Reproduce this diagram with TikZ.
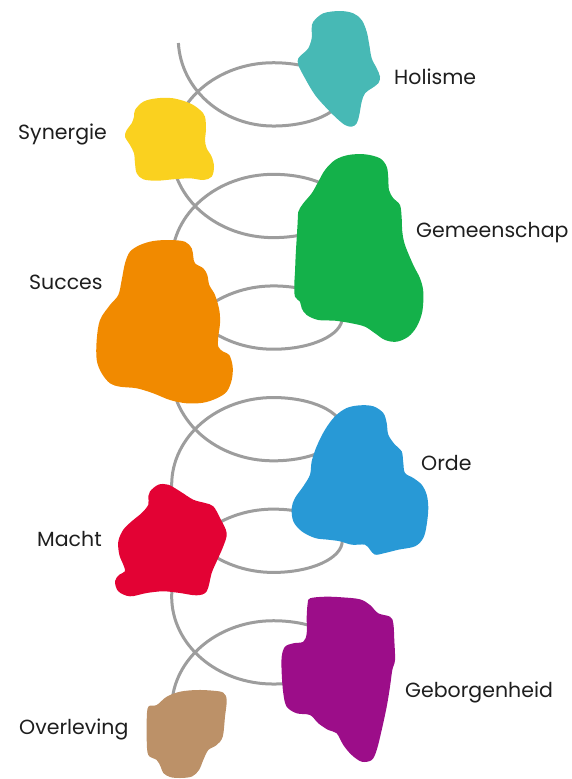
\documentclass[tikz,border=0pt]{standalone}
\usepackage{fontspec}
\setmainfont{Poppins}
\definecolor{coil}{HTML}{9D9D9D}
\definecolor{cTeal}{HTML}{47B9B5}
\definecolor{cYellow}{HTML}{FAD11F}
\definecolor{cGreen}{HTML}{14B14A}
\definecolor{cOrange}{HTML}{F18A00}
\definecolor{cBlue}{HTML}{2899D6}
\definecolor{cRed}{HTML}{E30234}
\definecolor{cPurple}{HTML}{9C0D89}
\definecolor{cTan}{HTML}{BC9168}
\definecolor{ink}{HTML}{1E1E1E}
\tikzset{
  spring/.style={draw=coil, line width=3pt},
  blob/.style={fill=#1, draw=none},
  tag/.style={anchor=base west, inner sep=0pt, text=ink, font=\fontsize{20.5}{24}\selectfont},
  % front half of a turn: from a top point, round the left, down to the next bottom
  lefthalf/.style={start angle=270, end angle=90, x radius=101.6, y radius=87.45},
  % back half of a turn: from a bottom point, round the right, up to the top
  righthalf/.style={start angle=90, end angle=-90, x radius=69, y radius=31.65}
}
\begin{document}
\begin{tikzpicture}[x=1pt, y=-1pt]
\useasboundingbox (0,0) rectangle (572,779);

% coiled spring running down the middle
\coordinate (coilstart) at (178.4,43);
\draw[spring] (coilstart)
  arc[start angle=177.1, end angle=90, x radius=95, y radius=87.45]
  arc[righthalf] arc[lefthalf]
  arc[righthalf] arc[lefthalf]
  arc[righthalf] arc[lefthalf]
  arc[righthalf] arc[lefthalf]
  arc[righthalf] arc[lefthalf]
  arc[righthalf]
  arc[start angle=270, end angle=185, x radius=101.6, y radius=87.45];

% Holisme
\fill[blob=cTeal] plot[smooth cycle, tension=0.55] coordinates {
 (313.3,21.7) (323.3,13.3) (340,11) (353.3,13.3) (361.7,20) (366.7,31.7)
 (369.3,45) (371.7,58.3) (376.7,68.3) (380,76.7) (378.3,83.3) (371.7,88.3)
 (365,93.3) (361.7,101.7) (359.3,115) (356.7,123.3) (351.7,126.7) (345,125)
 (336.7,118.3) (326.7,108.3) (315,95) (305,78.3) (298.3,65) (298.3,58.3)
 (303.3,53.3) (308.3,48.3) (311.7,38.3) (311.7,28.3)};

% Synergie
\fill[blob=cYellow] plot[smooth cycle, tension=0.55] coordinates {
 (135,110) (143.3,101.7) (156.7,98.3) (173.3,98.3) (190,103.3) (200,110)
 (205,116.7) (206,130) (205,140) (206.7,148.3) (211.7,156.7) (214,166.7)
 (211.7,176.7) (203.3,180) (190,178.3) (173.3,179.3) (156.7,180.7) (143.3,179.3)
 (136.7,173.3) (135,163.3) (134,153.3) (130,145) (125,136.7) (126.7,130)
 (131.7,123.3) (134,116.7)};

% Gemeenschap
\fill[blob=cGreen] plot[smooth cycle, tension=0.55] coordinates {
 (325,170) (335,160) (348.3,155) (365,154.3) (380,158.3) (386.7,166.7)
 (388.3,178.3) (389,190) (393.3,198.3) (400,205) (401.7,218.3) (402.3,231.7)
 (405,245) (413.3,265) (420,278.3) (423.3,291.7) (422.3,311.7) (416.7,326.7)
 (408.3,336.7) (396.7,341.7) (385,340) (375,333.3) (365,326.7) (351.7,323.3)
 (335,320.7) (318.3,320) (306.7,315) (301.7,308.3) (300,301.7) (295,296.7)
 (294.3,285) (295,271.7) (295.7,255) (296.7,238.3) (297.7,221.7) (298.3,211.7)
 (303.3,203.3) (311.7,193.3) (318.3,181.7)};

% Succes
\fill[blob=cOrange] plot[smooth cycle, tension=0.55] coordinates {
 (130,251.7) (140,245) (153.3,241) (170,240) (185,241.7) (191.7,248.3)
 (193.3,256.7) (195,263.3) (203.3,268.3) (207.3,275) (209.3,285) (215,295)
 (219.3,310) (220,323.3) (218.3,336.7) (218.3,346.7) (223.3,351.7) (229.3,355)
 (232.7,366.7) (231.7,380) (226.7,391.7) (216.7,398.3) (203.3,402.7) (186.7,403.3)
 (170,400) (153.3,393.3) (136.7,388.3) (120,386.7) (110,383.3) (101.7,373.3)
 (96.7,360) (96.7,340) (100,320) (110,305) (118.3,295) (121.7,280) (125,263.3)};

% Orde
\fill[blob=cBlue] plot[smooth cycle, tension=0.55] coordinates {
 (335,416.3) (346.7,408) (360,405.3) (373.3,406.3) (383.3,413) (386.7,423)
 (388.3,434.7) (395,444.7) (401.7,451.3) (403.3,463) (405,473) (413.3,478)
 (421.7,484.7) (426.7,494.7) (428.3,508) (426.7,524.7) (423.3,538) (415,546.3)
 (398.3,549.7) (385,553) (375,554.7) (370,549.7) (365,544.7) (351.7,544.7)
 (340,541.3) (328.3,539.7) (315,538) (301.7,531.3) (293.3,521.3) (291.7,508)
 (295,498) (303.3,486.3) (310,474.7) (311.7,461.3) (316.7,446.3) (325,429.7)};

% Macht
\fill[blob=cRed] plot[smooth cycle, tension=0.55] coordinates {
 (150,491.3) (158.3,484.7) (168.3,484.7) (180,491.3) (193.3,499.7) (205,503)
 (213.3,506.3) (220,518) (226.7,533) (223.3,546.3) (216.7,561.3) (211.7,573)
 (206.7,591.3) (196.7,595.3) (180,593) (163.3,591.3) (146.7,593) (130,596.3)
 (118.3,591.3) (115,581.3) (119.3,574.7) (125,571.3) (123.3,564.7) (119.3,554.7)
 (118.3,541.3) (123.3,529.7) (131.7,521.3) (141.7,513) (148.3,504.7) (148.3,496.3)};

% Geborgenheid
\fill[blob=cPurple] plot[smooth cycle, tension=0.55] coordinates {
 (310,598.3) (325,596.7) (341.7,597.3) (360,599.3) (370,605) (378.3,613.3)
 (390,616.7) (393.3,623.3) (394.3,640) (395,660) (392.3,670) (390,686.7)
 (386.7,706.7) (381.7,730) (376.7,750) (371.7,760) (361.7,761.7) (351.7,755)
 (343.3,745) (336.7,733.3) (328.3,730) (318.3,723.3) (310,715) (296.7,713.3)
 (286.7,706.7) (283.3,693.3) (281.7,673.3) (281.7,656.7) (285,646.7) (293.3,643.3)
 (303.3,641.7) (306.7,633.3) (306.7,616.7) (307.7,603.3)};

% Overleving
\fill[blob=cTan] plot[smooth cycle, tension=0.55] coordinates {
 (156.7,705) (166.7,696.7) (180,691.7) (196.7,690) (213.3,690.7) (223.3,692.7)
 (226.7,700) (225,716.7) (222.7,736.7) (216.7,745) (208.3,750) (203.3,760)
 (199,770) (192,776.5) (180,778) (170,777) (163.3,773) (160.7,766.7)
 (156.7,760) (148.3,755) (146.7,740) (146.7,720) (148.3,706.7)};

% labels
\node[tag] (holisme) at (394,84) {Holisme};
\node[tag] (synergie) at (18,139) {Synergie};
\node[tag] (gemeenschap) at (416,237) {Gemeenschap};
\node[tag] (succes) at (29,289) {Succes};
\node[tag] (orde) at (421,470) {Orde};
\node[tag] (macht) at (37,546) {Macht};
\node[tag] (geborgenheid) at (405,697) {Geborgenheid};
\node[tag] (overleving) at (19,734) {Overleving};
\end{tikzpicture}
\end{document}
